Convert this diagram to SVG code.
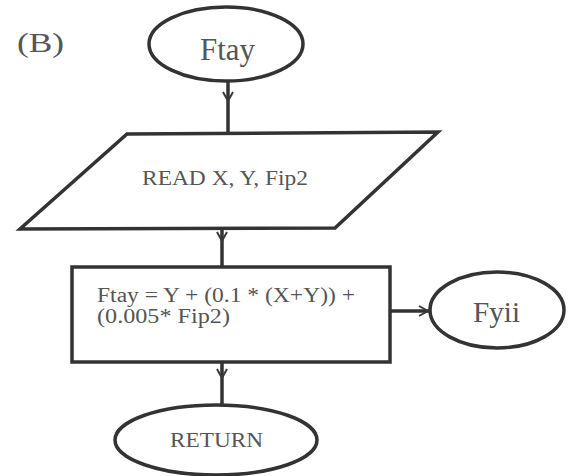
<svg xmlns="http://www.w3.org/2000/svg" width="568" height="476" viewBox="0 0 568 476">
<defs>
<marker id="chev" viewBox="0 0 12 12" refX="10" refY="6" markerWidth="12" markerHeight="12" markerUnits="userSpaceOnUse" orient="auto">
<path d="M1,1 L10,6 L1,11" fill="none" stroke="#3a3a3a" stroke-width="2"/>
</marker>
<style>
.shape{fill:#fff;stroke:#333;stroke-width:3.5}
.conn{fill:none;stroke:#333;stroke-width:3.5}
.t{font-family:"Liberation Serif","Times New Roman",serif;fill:#555}
</style>
</defs>
<rect width="568" height="476" fill="#fff"/>
<text class="t" x="17" y="52" font-size="28" textLength="47" lengthAdjust="spacingAndGlyphs">(B)</text>
<g id="connectors">
<path class="conn" d="M228,80 L228,101 L228,133" marker-mid="url(#chev)"/>
<path class="conn" d="M222,229 L222,241 L222,267" marker-mid="url(#chev)"/>
<path class="conn" d="M390,311 L428,311 L430,311" marker-mid="url(#chev)"/>
<path class="conn" d="M222,362 L222,378 L222,405" marker-mid="url(#chev)"/>
</g>
<g id="start">
<ellipse class="shape" cx="226" cy="44" rx="77" ry="37"/>
<text class="t" x="200" y="60" font-size="32" textLength="55" lengthAdjust="spacingAndGlyphs">Ftay</text>
</g>
<g id="read">
<polygon class="shape" points="127,134 438,132 335,228 20,229"/>
<text class="t" x="142" y="185" font-size="21" textLength="166" lengthAdjust="spacingAndGlyphs">READ X, Y, Fip2</text>
</g>
<g id="calc">
<rect class="shape" x="72" y="267" width="318" height="95"/>
<text class="t" x="97" y="302" font-size="20" textLength="258" lengthAdjust="spacingAndGlyphs">Ftay = Y + (0.1 * (X+Y)) +</text>
<text class="t" x="97" y="323" font-size="20" textLength="133" lengthAdjust="spacingAndGlyphs">(0.005* Fip2)</text>
</g>
<g id="fyii">
<ellipse class="shape" cx="497" cy="310" rx="67" ry="38"/>
<text class="t" x="473" y="322" font-size="30" textLength="47" lengthAdjust="spacingAndGlyphs">Fyii</text>
</g>
<g id="return">
<ellipse class="shape" cx="216" cy="440" rx="101" ry="35"/>
<text class="t" x="170" y="447" font-size="21" textLength="93" lengthAdjust="spacingAndGlyphs">RETURN</text>
</g>
</svg>
